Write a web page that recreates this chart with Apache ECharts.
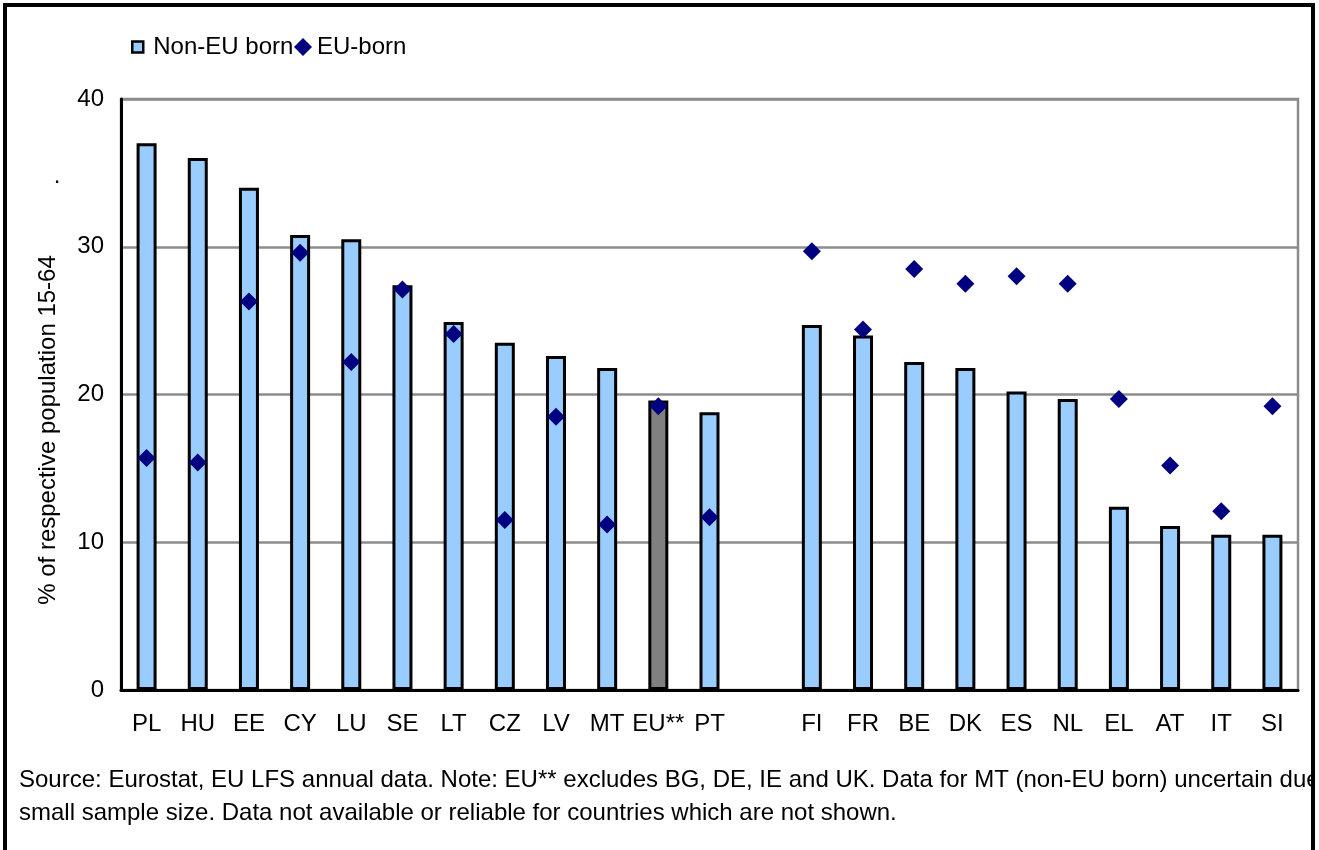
<!DOCTYPE html>
<html>
<head>
<meta charset="utf-8">
<title>Non-EU born vs EU-born, % of respective population 15-64</title>
<script src="https://cdn.jsdelivr.net/npm/echarts@6/dist/echarts.min.js"></script>
<style>
  html, body { margin: 0; padding: 0; background: #ffffff; }
  #chart { width: 1319px; height: 850px; }
</style>
</head>
<body>
<div id="chart"></div>
<script>
// Countries, with an empty slot separating the two groups
const categories = ['PL', 'HU', 'EE', 'CY', 'LU', 'SE', 'LT', 'CZ', 'LV', 'MT', 'EU**', 'PT', '',
  'FI', 'FR', 'BE', 'DK', 'ES', 'NL', 'EL', 'AT', 'IT', 'SI'];

// % of respective population aged 15-64
const nonEuBorn = [37.0, 36.0, 34.0, 30.8, 30.5, 27.4, 24.9, 23.5, 22.6, 21.8, 19.6, 18.8, null,
  24.7, 24.0, 22.2, 21.8, 20.2, 19.7, 12.4, 11.1, 10.5, 10.5];
const euBorn = [15.7, 15.4, 26.3, 29.6, 22.2, 27.1, 24.1, 11.5, 18.5, 11.2, 19.2, 11.7, null,
  29.7, 24.4, 28.5, 27.5, 28.0, 27.5, 19.7, 15.2, 12.1, 19.2];

const yTicks = { min: 0, max: 40, interval: 10 };

const seriesNames = ['Non-EU born', 'EU-born'];
const yTitle = '% of respective population 15-64';
const footLines = [
  'Source: Eurostat, EU LFS annual data. Note: EU** excludes BG, DE, IE and UK. Data for MT (non-EU born) uncertain due to',
  'small sample size. Data not available or reliable for countries which are not shown.'
];

const FONT = '"Liberation Sans", Arial, Helvetica, sans-serif';
const FS = 24;
const BAR_FILL = '#99CCFF';
const AVG_FILL = '#808080';

// The EU average bar is shaded grey
const barData = nonEuBorn.map((v, i) =>
  categories[i] === 'EU**' ? { value: v, itemStyle: { color: AVG_FILL } } : v);

const chart = echarts.init(document.getElementById('chart'), null, { renderer: 'canvas' });

chart.setOption({
  backgroundColor: '#ffffff',
  animation: false,
  textStyle: { fontFamily: FONT },
  grid: {
    left: 121, right: 21, top: 99, bottom: 160,
    show: true, borderColor: '#8c8c8c', borderWidth: 2.5, backgroundColor: 'transparent'
  },
  legend: [
    {
      data: [{ name: seriesNames[0], icon: 'rect' }],
      left: 131, top: 35, padding: 0,
      itemWidth: 11, itemHeight: 11,
      itemStyle: { borderColor: '#000', borderWidth: 2.5 },
      textStyle: { fontFamily: FONT, fontSize: FS, color: '#000', padding: [0, 0, 0, 5] },
      selectedMode: false
    },
    {
      data: [seriesNames[1]],
      left: 294, top: 35, padding: 0,
      itemWidth: 18, itemHeight: 18,
      textStyle: { fontFamily: FONT, fontSize: FS, color: '#000' },
      selectedMode: false
    }
  ],
  xAxis: {
    type: 'category',
    data: categories,
    axisLine: { show: true, lineStyle: { color: '#000', width: 3 } },
    axisTick: { show: false },
    axisLabel: { color: '#000', fontFamily: FONT, fontSize: FS, margin: 22, interval: 0 },
    splitLine: { show: false }
  },
  yAxis: {
    type: 'value',
    min: yTicks.min, max: yTicks.max, interval: yTicks.interval,
    axisLine: { show: true, lineStyle: { color: '#000', width: 3 } },
    axisTick: { show: false },
    axisLabel: { color: '#000', fontFamily: FONT, fontSize: FS, margin: 17 },
    splitLine: { show: true, lineStyle: { color: '#8c8c8c', width: 2.5 } }
  },
  series: [
    {
      name: seriesNames[0],
      type: 'bar',
      data: barData,
      barWidth: 20,
      itemStyle: { color: BAR_FILL, borderColor: '#000', borderWidth: 3 },
      z: 2
    },
    {
      name: seriesNames[1],
      type: 'scatter',
      data: euBorn,
      symbol: 'diamond',
      symbolSize: 18,
      itemStyle: { color: '#000080', opacity: 1 },
      z: 3
    }
  ],
  graphic: [
    {
      type: 'text', x: 48, y: 430, rotation: Math.PI / 2,
      style: { text: yTitle, fill: '#000', font: FS + 'px ' + FONT, textAlign: 'center', textVerticalAlign: 'middle' }
    },
    {
      type: 'text', x: 57, y: 176,
      style: { text: '.', fill: '#000', font: FS + 'px ' + FONT, textAlign: 'center', textVerticalAlign: 'middle' }
    },
    {
      type: 'text', x: 19, y: 780,
      style: { text: footLines[0], fill: '#000', font: FS + 'px ' + FONT, textAlign: 'left', textVerticalAlign: 'middle' }
    },
    {
      type: 'text', x: 19, y: 813,
      style: { text: footLines[1], fill: '#000', font: FS + 'px ' + FONT, textAlign: 'left', textVerticalAlign: 'middle' }
    },
    // margin outside the frame
    {
      type: 'rect', z: 100,
      shape: { x: 1313, y: 0, width: 10, height: 850 },
      style: { fill: '#ffffff' }
    },
    // outer frame
    {
      type: 'rect', z: 101,
      shape: { x: 5, y: 5, width: 1308, height: 900 },
      style: { fill: 'none', stroke: '#000', lineWidth: 4 }
    }
  ]
});
</script>
</body>
</html>
